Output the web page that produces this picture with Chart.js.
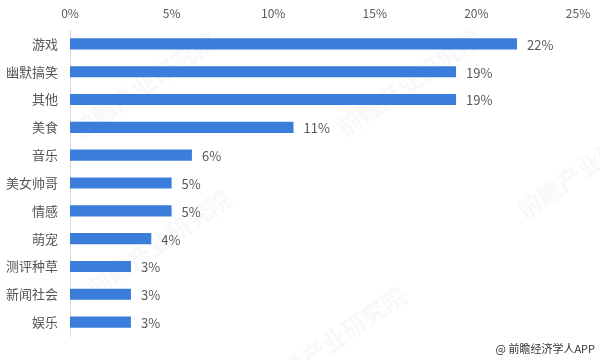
<!DOCTYPE html>
<html>
<head>
<meta charset="utf-8">
<script src="https://cdn.jsdelivr.net/npm/chart.js@4"></script>
<style>
  html, body { margin: 0; padding: 0; background: #fff; }
  #wrap { position: relative; width: 600px; height: 360px; }
  #credit {
    position: absolute; right: 5px; bottom: 4px;
    font: 11px "Noto Sans CJK SC", sans-serif; color: #333;
  }
</style>
</head>
<body>
<div id="wrap">
  <canvas id="chart" width="600" height="360"></canvas>
  <div id="credit">@ 前瞻经济学人APP</div>
</div>
<script>
// ---- data ----
const categories = ['游戏', '幽默搞笑', '其他', '美食', '音乐', '美女帅哥', '情感', '萌宠', '测评种草', '新闻社会', '娱乐'];
const shares = [22, 19, 19, 11, 6, 5, 5, 4, 3, 3, 3];
const tickLabels = ['0%', '5%', '10%', '15%', '20%', '25%'];

const FONT = '"Noto Sans CJK SC", "Noto Sans", sans-serif';

// value labels at the end of each bar
const barLabels = {
  id: 'barLabels',
  afterDatasetsDraw(chart) {
    const ctx = chart.ctx;
    const meta = chart.getDatasetMeta(0);
    ctx.save();
    ctx.font = '13px ' + FONT;
    ctx.fillStyle = '#595959';
    ctx.textBaseline = 'middle';
    meta.data.forEach((bar, i) => {
      ctx.fillText(shares[i] + '%', bar.x + 10, bar.y + 1);
    });
    ctx.restore();
  }
};

// very faint diagonal watermark
const watermark = {
  id: 'watermark',
  beforeDatasetsDraw(chart) {
    const ctx = chart.ctx;
    ctx.save();
    ctx.font = 'bold 24px ' + FONT;
    ctx.fillStyle = 'rgba(185, 195, 210, 0.12)';
    [[80, 140], [345, 138], [95, 298], [525, 220], [270, 395]].forEach(([x, y]) => {
      ctx.save();
      ctx.translate(x, y);
      ctx.rotate(-0.6);
      ctx.fillText('前瞻产业研究院', 0, 0);
      ctx.restore();
    });
    ctx.restore();
  }
};

new Chart(document.getElementById('chart'), {
  type: 'bar',
  data: {
    labels: categories,
    datasets: [{
      data: shares,
      backgroundColor: '#3b7ddb',
      borderWidth: 0,
      barPercentage: 0.8,
      categoryPercentage: 0.5
    }]
  },
  options: {
    indexAxis: 'y',
    responsive: false,
    animation: false,
    layout: { padding: { top: 0, right: 22, bottom: 24, left: 0 } },
    plugins: {
      legend: { display: false },
      tooltip: { enabled: false }
    },
    scales: {
      x: {
        position: 'top',
        min: 0,
        max: 25,
        afterFit: s => { s.height = 30; },
        afterBuildTicks: s => { s.ticks = tickLabels.map((t, i) => ({ value: i * 5 })); },
        ticks: {
          callback: (v, i) => tickLabels[i],
          color: '#595959',
          font: { family: FONT, size: 12 },
          padding: 9
        },
        grid: { display: false, drawTicks: false },
        border: { display: false }
      },
      y: {
        afterFit: s => { s.width = 70; },
        ticks: {
          color: '#555',
          font: { family: FONT, size: 13 },
          padding: 12
        },
        grid: { display: false, drawTicks: false },
        border: { display: true, color: '#d9d9d9', width: 1 }
      }
    }
  },
  plugins: [watermark, barLabels]
});
</script>
</body>
</html>
